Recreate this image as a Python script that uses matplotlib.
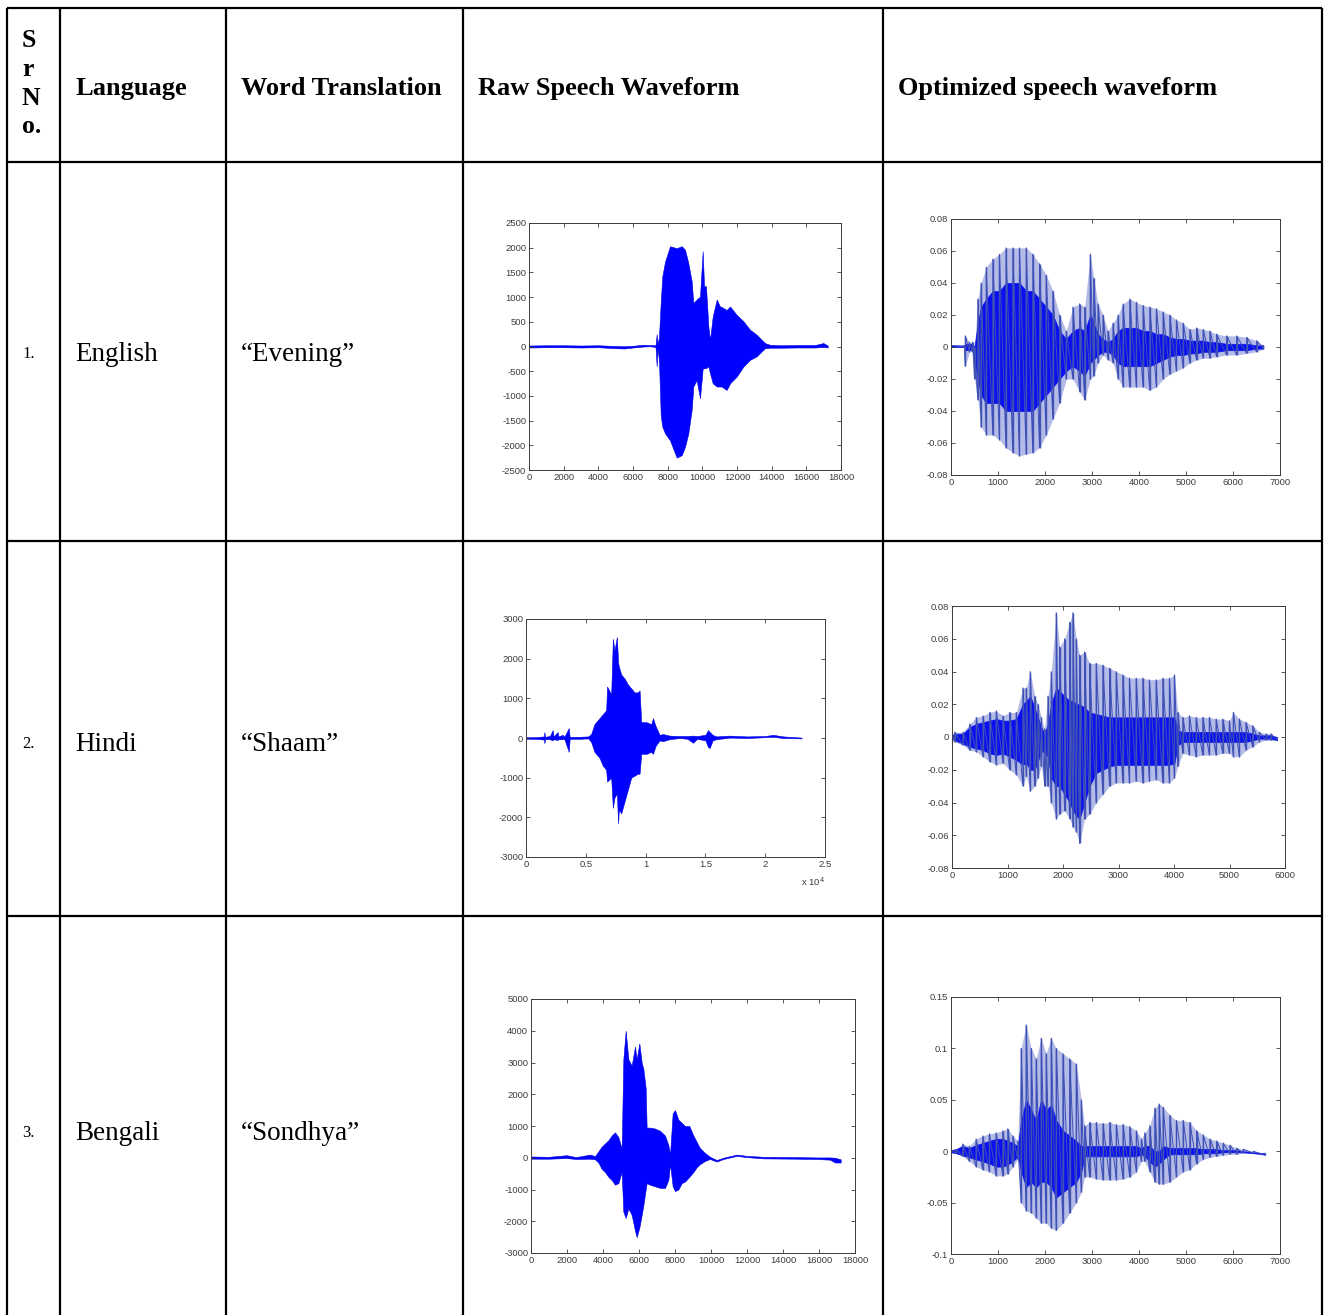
import numpy as np
import matplotlib
matplotlib.use("Agg")
import matplotlib.pyplot as plt

plt.rcParams["axes.unicode_minus"] = False

# table text
headers = ["Language", "Word Translation", "Raw Speech Waveform", "Optimized speech waveform"]
sr_no = ["1.", "2.", "3."]
languages = ["English", "Hindi", "Bengali"]
words = ["\u201cEvening\u201d", "\u201cShaam\u201d", "\u201cSondhya\u201d"]

# raw waveforms: envelope (upper / lower), x in samples
raw1_x = [0, 1000, 2000, 3000, 4000, 5000, 5500, 6000, 6600, 7000,
          7300, 7365, 7420, 7500, 7600, 7690, 7850, 8135, 8520, 8810,
          9000, 9190, 9385, 9480, 9670, 9865, 10020, 10100, 10210, 10350,
          10440, 10600, 10830, 11020, 11110, 11400, 11600, 11980, 12370, 12750,
          13130, 13420, 13615, 13900, 14500, 15500, 16500, 16980, 17230]
raw1_hi = [20, 25, 25, 20, 25, 10, 5, 15, 35, 30,
           25, 250, 40, 200, 900, 1420, 1720, 2030, 1990, 2030,
           1960, 1690, 1320, 880, 950, 1010, 1930, 1220, 1220, 400,
           135, 610, 950, 810, 800, 740, 810, 640, 510, 340,
           240, 135, 70, 35, 25, 30, 30, 70, 20]
raw1_lo = [-20, -15, -15, -20, -15, -35, -40, -20, 0, 5,
           -10, -400, -30, -300, -1400, -1620, -1760, -1900, -2250, -2200,
           -2030, -1760, -1285, -810, -680, -1050, -450, -440, -440, -400,
           -540, -745, -810, -810, -810, -880, -745, -610, -405, -270,
           -200, -100, -35, -25, -25, -20, -20, -10, -20]

raw2_x = [0, 800, 1500, 1536, 1600, 2000, 2234, 2300, 2653, 2700,
          3072, 3200, 3575, 3650, 4500, 5200, 5446, 5726, 6145, 6424,
          6703, 6780, 7122, 7262, 7400, 7597, 7700, 7765, 7960, 8240,
          8519, 8798, 9077, 9357, 9496, 9636, 10055, 10474, 10613, 10837,
          11172, 11451, 12000, 12848, 13500, 13965, 14300, 15000, 15222, 15362,
          15600, 15920, 17038, 18500, 20000, 20670, 21500, 23042]
raw2_hi = [20, 20, 40, 150, 30, 50, 200, 40, 150, 40,
           80, 30, 250, 30, 30, 40, 100, 350, 500, 600,
           700, 1300, 1100, 2500, 2200, 2550, 1900, 1800, 1600, 1500,
           1350, 1250, 1150, 1150, 1200, 400, 400, 350, 500, 300,
           80, 100, 60, 50, 50, 60, 50, 80, 200, 150,
           80, 40, 60, 40, 50, 80, 40, 10]
raw2_lo = [-20, -20, -40, -130, -30, -30, -60, -30, -50, -30,
           -30, -20, -350, -20, -20, -10, -100, -350, -500, -700,
           -800, -1100, -1000, -1760, -1500, -1400, -2150, -1800, -1900, -1600,
           -1300, -1000, -950, -900, -900, -400, -400, -350, -400, -200,
           -60, -80, -30, 0, -20, -120, -20, -60, -230, -250,
           -60, -30, 10, 0, 20, 30, 0, -10]

raw3_x = [0, 1000, 1980, 2500, 3280, 3556, 3741, 3926, 4111, 4296,
          4481, 4667, 4852, 5037, 5130, 5260, 5408, 5593, 5778, 5871,
          6019, 6149, 6241, 6371, 6426, 6611, 6889, 7167, 7445, 7630,
          7723, 7871, 8000, 8186, 8371, 8556, 8797, 9019, 9204, 9390,
          9667, 9945, 10316, 10686, 11056, 11427, 11982, 12908, 14760, 15872,
          16612, 16890, 17205]
raw3_hi = [40, 30, 80, 20, 100, 50, 200, 350, 450, 550,
           700, 800, 650, 300, 3100, 4000, 3100, 2900, 3500, 3100,
           3600, 3000, 2800, 2200, 950, 950, 920, 850, 700, 400,
           100, 1400, 1500, 1200, 1100, 1000, 1000, 700, 500, 300,
           150, 30, -70, 0, 50, 100, 60, 30, 20, 10,
           10, 0, -50]
raw3_lo = [-30, -30, -10, -40, -30, -50, -150, -350, -450, -600,
           -700, -850, -800, -450, -1700, -1900, -1600, -1800, -2300, -2500,
           -2200, -1800, -1500, -1000, -800, -850, -900, -950, -950, -700,
           -200, -900, -1050, -1000, -800, -750, -600, -450, -300, -200,
           -100, -40, -120, -40, 10, 60, 20, -20, -30, -40,
           -60, -150, -150]

# optimized waveforms: outer spike envelope + inner dense band
opt1_x = [0, 285, 305, 390, 460, 500, 570, 640, 750, 890,
          1030, 1170, 1315, 1457, 1600, 1740, 1883, 2025, 2168, 2310,
          2452, 2594, 2736, 2843, 2964, 3035, 3127, 3234, 3340, 3447,
          3554, 3660, 3802, 3944, 4087, 4229, 4371, 4513, 4655, 4797,
          4940, 5081, 5224, 5366, 5508, 5650, 5863, 6076, 6290, 6503,
          6645]
opt1_hi = [.001, .001, .007, .003, .003, 0, .03, .04, .05, .055,
           .058, .062, .062, .062, .062, .058, .052, .045, .035, .02,
           .01, .025, .027, .025, .058, .043, .027, .02, .01, .015,
           .02, .027, .03, .028, .026, .025, .024, .022, .02, .017,
           .015, .011, .012, .011, .01, .008, .007, .007, .006, .004,
           .001]
opt1_lo = [0, 0, -.012, -.003, -.003, -.02, -.033, -.05, -.055, -.055,
           -.058, -.063, -.066, -.068, -.067, -.066, -.063, -.055, -.045, -.035,
           -.02, -.02, -.028, -.033, -.02, -.018, -.01, -.005, -.008, -.01,
           -.02, -.025, -.025, -.025, -.025, -.027, -.025, -.02, -.017, -.015,
           -.013, -.01, -.008, -.007, -.007, -.006, -.005, -.005, -.004, -.003,
           -.001]
opt1_in_hi = [.001, .001, .002, .002, .002, 0, .015, .025, .03, .035,
              .035, .04, .04, .04, .035, .035, .03, .025, .02, .01,
              .005, .01, .012, .01, .02, .015, .008, .005, .003, .005,
              .01, .012, .012, .012, .01, .01, .008, .008, .006, .005,
              .005, .004, .004, .004, .003, .003, .002, .002, .002, .001,
              .001]
opt1_in_lo = [0, 0, -.002, -.002, -.002, -.01, -.02, -.03, -.035, -.035,
              -.035, -.04, -.04, -.04, -.04, -.04, -.035, -.03, -.025, -.02,
              -.015, -.012, -.015, -.018, -.01, -.008, -.005, -.003, -.003, -.005,
              -.01, -.012, -.012, -.012, -.012, -.012, -.01, -.008, -.006, -.005,
              -.005, -.004, -.004, -.003, -.003, -.003, -.002, -.002, -.002, -.001,
              -.001]

opt2_x = [0, 48, 198, 318, 438, 558, 678, 798, 918, 1038,
          1158, 1278, 1338, 1410, 1488, 1548, 1608, 1668, 1728, 1788,
          1878, 1938, 2028, 2118, 2178, 2238, 2298, 2388, 2478, 2598,
          2718, 2838, 2958, 3078, 3198, 3318, 3438, 3558, 3678, 3798,
          3918, 4008, 4068, 4158, 4278, 4398, 4518, 4638, 4758, 4878,
          4998, 5070, 5178, 5298, 5418, 5538, 5658, 5748, 5856]
opt2_hi = [.002, .003, .003, .008, .012, .013, .015, .016, .013, .015,
           .015, .03, .03, .04, .025, .02, .012, .005, .025, .04,
           .076, .055, .06, .07, .076, .06, .05, .052, .045, .045,
           .044, .042, .04, .038, .036, .036, .036, .035, .035, .036,
           .036, .038, .015, .012, .013, .012, .012, .012, .011, .011,
           .01, .015, .011, .009, .007, .003, .002, .002, -.001]
opt2_lo = [-.002, -.003, -.005, -.008, -.009, -.012, -.015, -.017, -.016, -.02,
           -.023, -.03, -.024, -.033, -.03, -.025, -.018, -.03, -.03, -.04,
           -.05, -.047, -.045, -.05, -.055, -.058, -.065, -.05, -.047, -.04,
           -.035, -.03, -.028, -.028, -.028, -.027, -.028, -.027, -.026, -.028,
           -.028, -.025, -.018, -.01, -.011, -.012, -.011, -.011, -.011, -.01,
           -.01, -.012, -.012, -.008, -.006, -.003, -.002, -.002, -.002]
opt2_in_hi = [.001, .002, .002, .006, .008, .009, .01, .011, .01, .01,
              .011, .02, .022, .025, .018, .012, .006, .002, .008, .02,
              .03, .028, .025, .022, .022, .02, .02, .018, .015, .014,
              .013, .012, .012, .012, .012, .012, .012, .012, .012, .012,
              .012, .012, .004, .003, .003, .003, .003, .003, .003, .003,
              .003, .003, .003, .003, .002, .001, .001, .001, 0]
opt2_in_lo = [-.001, -.002, -.004, -.006, -.007, -.008, -.01, -.011, -.01, -.012,
              -.014, -.017, -.016, -.02, -.02, -.015, -.008, -.01, -.012, -.025,
              -.03, -.03, -.035, -.04, -.045, -.048, -.05, -.04, -.03, -.022,
              -.02, -.018, -.017, -.017, -.017, -.017, -.017, -.017, -.017, -.017,
              -.017, -.016, -.005, -.003, -.003, -.003, -.003, -.003, -.003, -.003,
              -.003, -.003, -.003, -.003, -.002, -.001, -.001, -.001, -.002]

opt3_x = [0, 107, 249, 391, 533, 675, 817, 959, 1102, 1208,
          1315, 1421, 1492, 1599, 1706, 1812, 1919, 2025, 2132, 2239,
          2381, 2523, 2665, 2772, 2843, 2949, 3092, 3234, 3376, 3518,
          3660, 3802, 3944, 4051, 4122, 4229, 4335, 4428, 4513, 4655,
          4797, 4940, 5081, 5224, 5366, 5508, 5650, 5792, 5934, 6076,
          6219, 6432, 6680]
opt3_hi = [.001, .002, .007, .005, .012, .015, .017, .018, .02, .022,
           .015, .01, .1, .123, .1, .09, .11, .095, .11, .1,
           .095, .09, .085, .05, .025, .028, .028, .027, .028, .026,
           .026, .024, .02, .012, .018, .025, .042, .046, .043, .035,
           .03, .03, .028, .02, .016, .012, .01, .008, .006, .003,
           .002, 0, -.002]
opt3_lo = [-.001, -.002, -.005, -.01, -.015, -.018, -.02, -.024, -.024, -.022,
           -.015, -.008, -.05, -.058, -.06, -.065, -.07, -.07, -.075, -.077,
           -.07, -.06, -.05, -.04, -.025, -.025, -.027, -.028, -.028, -.028,
           -.027, -.025, -.02, -.01, -.01, -.02, -.03, -.032, -.032, -.03,
           -.025, -.02, -.018, -.012, -.008, -.006, -.005, -.004, -.003, -.003,
           -.002, -.002, -.004]
opt3_in_hi = [.001, .002, .005, .003, .006, .008, .01, .012, .012, .01,
              .008, .005, .03, .05, .04, .03, .05, .04, .045, .03,
              .02, .015, .01, .005, .005, .005, .005, .005, .005, .005,
              .005, .005, .005, .003, .005, .005, 0, 0, .005, .003,
              .003, .003, .003, .003, .002, .002, .002, .001, .001, .001,
              0, -.001, -.002]
opt3_in_lo = [-.001, -.002, -.004, -.006, -.008, -.01, -.012, -.015, -.015, -.013,
              -.01, -.005, -.02, -.035, -.03, -.035, -.03, -.03, -.035, -.045,
              -.04, -.035, -.03, -.02, -.005, -.005, -.005, -.005, -.005, -.005,
              -.005, -.005, -.005, -.003, -.005, -.01, -.015, -.012, -.008, -.003,
              -.003, -.003, -.003, -.003, -.002, -.002, -.002, -.001, -.001, -.001,
              -.001, -.002, -.003]

W, H = 1328, 1315
fig = plt.figure(figsize=(W / 100, H / 100), dpi=100)
fig.patch.set_facecolor("white")

# background axes in pixel units for the table grid and text
bg = fig.add_axes([0, 0, 1, 1])
bg.set_xlim(0, W)
bg.set_ylim(H, 0)
bg.axis("off")

col_lines = [7, 60, 226, 463, 883, 1322]
row_lines = [8, 162, 541, 916]
for xc in col_lines:
    bg.plot([xc, xc], [row_lines[0], H], color="black", lw=1.6, solid_capstyle="butt")
for yr in row_lines:
    bg.plot([col_lines[0], col_lines[-1]], [yr, yr], color="black", lw=1.6, solid_capstyle="butt")

serif = "Liberation Serif"
for ch, yy in zip(["S", "r", "N", "o."], [47, 76, 105, 133]):
    bg.text(22, yy, ch, fontsize=18.5, fontweight="bold", family=serif, va="baseline")
for hx, h in zip([75, 241, 478, 898], headers):
    bg.text(hx, 88, h, fontsize=19, fontweight="bold", family=serif, va="center")

row_y = [354, 744, 1133]
for yy, n, lang, w in zip(row_y, sr_no, languages, words):
    bg.text(22, yy, n, fontsize=12, family=serif, va="center")
    bg.text(75, yy, lang, fontsize=19.5, family=serif, va="center")
    bg.text(241, yy, w, fontsize=19.5, family=serif, va="center")


def pix_axes(l, t, r, b):
    return fig.add_axes([l / W, 1 - b / H, (r - l) / W, (b - t) / H])


def matlab_style(ax):
    for s in ax.spines.values():
        s.set_color("#3c3c3c")
        s.set_linewidth(0.7)
    ax.tick_params(direction="in", top=True, right=True, length=3, width=0.6,
                   labelsize=6.8, colors="#3c3c3c", pad=2)
    for lab in ax.get_xticklabels() + ax.get_yticklabels():
        lab.set_family("Liberation Sans")


def raw_plot(ax, x, hi, lo):
    ax.fill_between(x, lo, hi, color="#0000ff", lw=0.4, edgecolor="#0000e0")


def opt_plot(ax, x, hi, lo, in_hi, in_lo):
    # faint body of the spike forest, then the spikes, then the dense core
    ax.fill_between(x, lo, hi, color="#b4bbe6", lw=0)
    ax.vlines(x, lo, hi, color="#4656b0", lw=1.0)
    xs = np.repeat(x, 2)
    ys = np.column_stack([lo, hi]).ravel()
    ax.plot(xs, ys, color="#3d4fb8", lw=0.7)
    ax.fill_between(x, in_lo, in_hi, color="#0a10f0", lw=0.5)


# row 1
ax = pix_axes(529, 223, 841, 470)
raw_plot(ax, raw1_x, raw1_hi, raw1_lo)
ax.set_xlim(0, 18000)
ax.set_ylim(-2500, 2500)
ax.set_xticks(range(0, 18001, 2000))
ax.set_yticks(range(-2500, 2501, 500))
matlab_style(ax)

ax = pix_axes(951, 219, 1280, 475)
opt_plot(ax, opt1_x, opt1_hi, opt1_lo, opt1_in_hi, opt1_in_lo)
ax.set_xlim(0, 7000)
ax.set_ylim(-0.08, 0.08)
ax.set_xticks(range(0, 7001, 1000))
ax.set_yticks(np.arange(-0.08, 0.081, 0.02))
ax.set_yticklabels(["-0.08", "-0.06", "-0.04", "-0.02", "0", "0.02", "0.04", "0.06", "0.08"])
matlab_style(ax)

# row 2
ax = pix_axes(526, 619, 825, 857)
raw_plot(ax, raw2_x, raw2_hi, raw2_lo)
ax.set_xlim(0, 25000)
ax.set_ylim(-3000, 3000)
ax.set_xticks(range(0, 25001, 5000))
ax.set_xticklabels(["0", "0.5", "1", "1.5", "2", "2.5"])
ax.set_yticks(range(-3000, 3001, 1000))
matlab_style(ax)
bg.text(813, 882, r"x 10$^4$", fontsize=6.8, color="#3c3c3c", family="Liberation Sans",
        ha="center", va="center")

ax = pix_axes(952, 606, 1285, 868)
opt_plot(ax, opt2_x, opt2_hi, opt2_lo, opt2_in_hi, opt2_in_lo)
ax.set_xlim(0, 6000)
ax.set_ylim(-0.08, 0.08)
ax.set_xticks(range(0, 6001, 1000))
ax.set_yticks(np.arange(-0.08, 0.081, 0.02))
ax.set_yticklabels(["-0.08", "-0.06", "-0.04", "-0.02", "0", "0.02", "0.04", "0.06", "0.08"])
matlab_style(ax)

# row 3
ax = pix_axes(531, 999, 855, 1253)
raw_plot(ax, raw3_x, raw3_hi, raw3_lo)
ax.set_xlim(0, 18000)
ax.set_ylim(-3000, 5000)
ax.set_xticks(range(0, 18001, 2000))
ax.set_yticks(range(-3000, 5001, 1000))
matlab_style(ax)

ax = pix_axes(951, 997, 1280, 1254)
opt_plot(ax, opt3_x, opt3_hi, opt3_lo, opt3_in_hi, opt3_in_lo)
ax.set_xlim(0, 7000)
ax.set_ylim(-0.1, 0.15)
ax.set_xticks(range(0, 7001, 1000))
ax.set_yticks([-0.1, -0.05, 0, 0.05, 0.1, 0.15])
ax.set_yticklabels(["-0.1", "-0.05", "0", "0.05", "0.1", "0.15"])
matlab_style(ax)

fig.savefig("out.png", dpi=100, facecolor="white")
